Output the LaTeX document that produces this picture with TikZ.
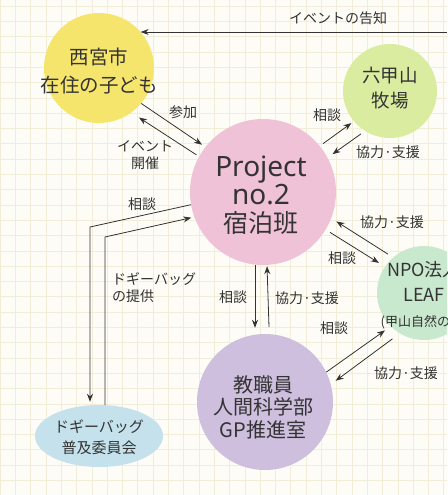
\documentclass[tikz,border=0pt]{standalone}
\usepackage{fontspec}
\setmainfont{Noto Sans CJK JP}
\newfontfamily\latinfont{Noto Sans}
\usetikzlibrary{arrows.meta,shapes.geometric}
\definecolor{ink}{HTML}{333333}
\definecolor{paper}{HTML}{FDFCF6}
\definecolor{gridc}{HTML}{F1EDD8}
\definecolor{yel}{HTML}{F6E56C}
\definecolor{leaf}{HTML}{D9EC9F}
\definecolor{mint}{HTML}{C9E9CF}
\definecolor{rose}{HTML}{F0C2D7}
\definecolor{lilac}{HTML}{CDBFDD}
\definecolor{sky}{HTML}{C5E2EC}
\tikzset{
  disc/.style={circle,inner sep=0pt,draw=none},
  txt/.style={text=ink,align=center,inner sep=0pt},
  lbl/.style={text=ink,inner sep=0pt,font=\fontsize{14}{17}\selectfont},
  arr/.style={draw=ink,line width=0.8pt,-{Stealth[length=8pt,width=6pt]}},
  gridline/.style={draw=gridc,line width=0.6pt}
}
\begin{document}
\begin{tikzpicture}[x=1pt,y=-1pt]
\useasboundingbox (0,0) rectangle (447,495);
\fill[paper] (0,0) rectangle (447,495);
% faint grid paper
\foreach \i in {0,...,29}{
  \draw[gridline] (\i*15.3,0) -- (\i*15.3,495);
}
\foreach \j in {0,...,32}{
  \draw[gridline] (0,6+\j*15.3) -- (447,6+\j*15.3);
}
\begin{scope}
\clip (0,0) rectangle (447,495);
% circles
\node[disc,fill=yel,minimum size=110pt] (ys) at (99,68) {};
\node[disc,fill=leaf,minimum size=94pt] (gs) at (390,91) {};
\node[disc,fill=rose,minimum size=146pt] (pj) at (263,192) {};
\node[disc,fill=mint,minimum size=94pt] (np) at (424,293) {};
\node[disc,fill=lilac,minimum size=136pt] (tc) at (265,402) {};
\node[ellipse,inner sep=0pt,fill=sky,minimum width=128pt,minimum height=62pt] (db) at (99,436) {};
% texts in the circles
\node[txt,font=\fontsize{19.5}{28}\selectfont] (ys-t) at (99,71) {西宮市\\在住の子ども};
\node[txt,font=\fontsize{18.5}{25}\selectfont] (gs-t) at (390,88) {六甲山\\牧場};
\node[txt,font=\fontsize{25}{28}\selectfont] (pj-t) at (261,195)
  {{\latinfont\fontsize{28}{28}\selectfont Project}\\{\latinfont\fontsize{28}{28}\selectfont no.2}\\宿泊班};
\node[txt,font=\fontsize{18}{25}\selectfont] (np-t) at (424,295)
  {NPO法人\\LEAF\\{\fontsize{13}{22}\selectfont(甲山自然の\hphantom{会)}}};
\node[txt,font=\fontsize{20}{22.5}\selectfont] (tc-t) at (263,407) {教職員\\人間科学部\\GP推進室};
\node[txt,font=\fontsize{15}{21}\selectfont] (db-t) at (99,437) {ドギーバッグ\\普及委員会};
% arrows
\coordinate (edge) at (447,32);
\draw[arr] (edge) -- (edge -| ys.41);
\draw[arr,shorten >=4pt] (ys.-40) -- (pj.142);
\draw[arr,shorten <=3pt,shorten >=9pt] (pj.151) -- (ys.-54);
\draw[arr,shorten <=4pt,shorten >=3pt] (pj.39) -- (gs.220);
\draw[arr,shorten <=5pt,shorten >=6pt] (gs.238) -- (pj.28);
\coordinate (cL) at (90,227);
\coordinate (cR) at (105,237);
\draw[arr,shorten >=3pt] (pj.190) -- (cL) -- (cL |- db.north);
\draw[arr,shorten >=3pt] (cR |- db.north) -- (cR) -- (pj.200);
\draw[arr,shorten >=6pt] ([xshift=-8pt]pj.south) -- ([xshift=-8pt]pj.south |- tc.north);
\draw[arr,shorten >=1pt] ([xshift=4pt]tc.north |- 0,327) -- ([xshift=4pt]pj.south);
\draw[arr,shorten <=5pt,shorten >=7pt] (pj.-31) -- (np.146);
\draw[arr,shorten <=6pt,shorten >=6pt] (np.131) -- (pj.-21);
\draw[arr,shorten >=7pt] (tc.26) -- (np.225);
\draw[arr,shorten <=9pt,shorten >=6pt] (np.239) -- (tc.15);
% labels
\node[lbl] (l-info) at (338,18) {イベントの告知};
\node[lbl] (l-join) at (183,112) {参加};
\node[lbl,align=center] (l-event) at (145,155) {イベント\\開催};
\node[lbl] (l-gs1) at (327,115) {相談};
\node[lbl] (l-gs2) at (388,152) {協力·支援};
\node[lbl] (l-db1) at (142,204) {相談};
\node[lbl,align=left,anchor=west] (l-db2) at (112,288) {ドギーバッグ\\の提供};
\node[lbl] (l-tc1) at (233,297) {相談};
\node[lbl] (l-tc2) at (307,298) {協力·支援};
\node[lbl] (l-np1) at (392,222) {協力·支援};
\node[lbl] (l-np2) at (342,258) {相談};
\node[lbl] (l-np3) at (334,328) {相談};
\node[lbl] (l-np4) at (406,373) {協力·支援};
\end{scope}
\end{tikzpicture}
\end{document}
